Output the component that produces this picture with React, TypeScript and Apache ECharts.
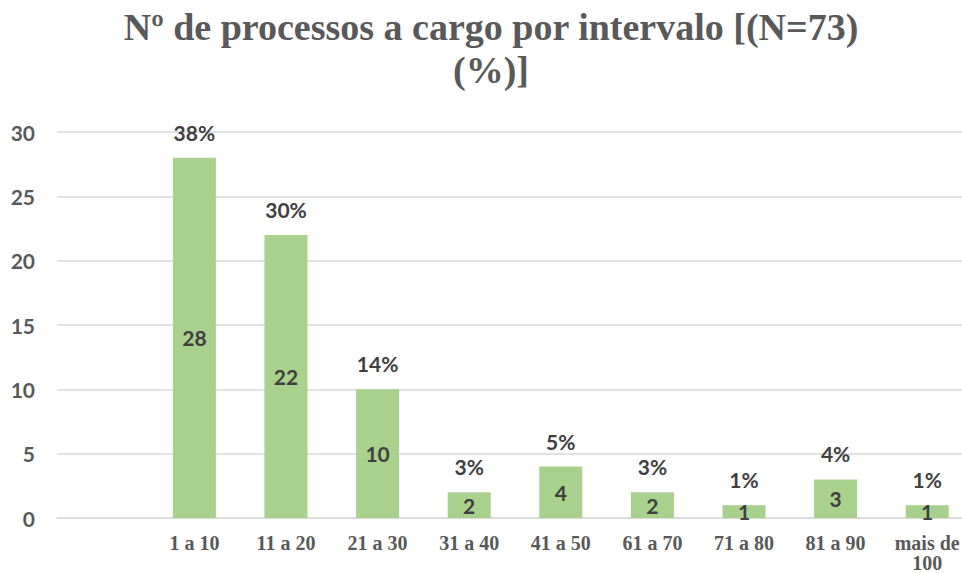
import React, { useEffect, useRef } from "react";
import * as echarts from "echarts";

const categories = ["", "1 a 10", "11 a 20", "21 a 30", "31 a 40", "41 a 50", "61 a 70", "71 a 80", "81 a 90", "mais de\n100"];
const counts = [null, 28, 22, 10, 2, 4, 2, 1, 3, 1];
const percents = [null, 38, 30, 14, 3, 5, 3, 1, 4, 1];
const yTicks = { min: 0, max: 30, interval: 5 };
const titleText = "Nº de processos a cargo por intervalo [(N=73)\n(%)]";

export default function App() {
  const ref = useRef<HTMLDivElement>(null);
  useEffect(() => {
    if (!ref.current) return;
    const chart = echarts.init(ref.current, null, { renderer: "svg" });
    const sans = "Lato, 'Open Sans', sans-serif";
    const serif = "'Liberation Serif', 'DejaVu Serif', serif";
    chart.setOption({
      animation: false,
      backgroundColor: "#ffffff",
      graphic: [
        {
          type: "text",
          x: 491,
          y: 5,
          style: {
            text: titleText,
            textAlign: "center",
            textVerticalAlign: "top",
            fontFamily: serif,
            fontWeight: "bold",
            fontSize: 38,
            lineHeight: 43,
            fill: "#595959",
          },
        },
      ],
      grid: { left: 57, width: 916, top: 132, bottom: 55, containLabel: false, outerBoundsMode: "none" },
      xAxis: {
        type: "category",
        data: categories,
        axisLine: { show: true, lineStyle: { color: "#d9d9d9", width: 1.5 } },
        axisTick: { show: false },
        axisLabel: {
          fontFamily: serif,
          fontWeight: "bold",
          fontSize: 20,
          color: "#595959",
          lineHeight: 20,
          margin: 15,
          interval: 0,
        },
      },
      yAxis: {
        type: "value",
        min: yTicks.min,
        max: yTicks.max,
        interval: yTicks.interval,
        axisLine: { show: false },
        axisTick: { show: false },
        splitLine: { lineStyle: { color: "#d9d9d9", width: 1.5 } },
        axisLabel: {
          fontFamily: sans,
          fontWeight: "bold",
          fontSize: 21,
          color: "#595959",
          margin: 22,
        },
      },
      series: [
        {
          type: "bar",
          data: counts,
          barWidth: "47%",
          itemStyle: { color: "#a9d18e" },
          label: {
            show: true,
            position: "inside",
            fontFamily: sans,
            fontWeight: "bold",
            fontSize: 21,
            color: "#404040",
          },
          z: 2,
        },
        {
          type: "bar",
          data: counts,
          barWidth: "47%",
          barGap: "-100%",
          itemStyle: { color: "rgba(0,0,0,0)" },
          label: {
            show: true,
            position: "top",
            distance: 15,
            fontFamily: sans,
            fontWeight: "bold",
            fontSize: 21,
            color: "#404040",
            formatter: (p: any) => (percents[p.dataIndex] == null ? "" : percents[p.dataIndex] + "%"),
          },
          z: 3,
        },
      ],
    });
    return () => chart.dispose();
  }, []);
  return <div ref={ref} style={{ width: 962, height: 573, position: "absolute", left: 0, top: 0 }} />;
}
